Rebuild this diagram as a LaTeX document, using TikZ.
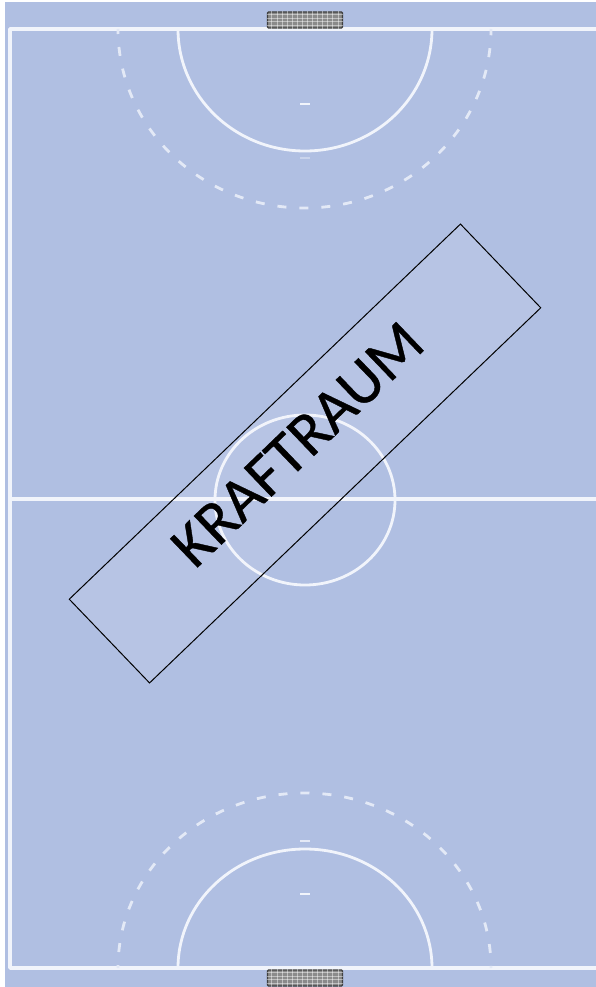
\documentclass[tikz,border=0pt]{standalone}
\usepackage{fontspec}
\setmainfont{Carlito}
\newfontfamily\rotulofont[FakeBold=0.6]{Carlito}
\usepackage{tikz}
\usetikzlibrary{positioning,calc}
\definecolor{quadra}{HTML}{B0BFE2}
\definecolor{linha}{HTML}{F1F4FB}
\definecolor{tracejado}{HTML}{E3E9F6}
\definecolor{rede}{HTML}{8A8A8A}
\definecolor{trave}{HTML}{3F3F3F}

\begin{document}
\begin{tikzpicture}[x=1pt, y=-1pt,
  ln/.style={draw=linha, line width=2.8pt, line join=round},
  rt/.style={ln, line width=3.6pt},
  dsh/.style={draw=tracejado, line width=2.8pt, dash pattern=on 9pt off 13pt},
  tick/.style={draw=linha, line width=2.4pt},
  goalbox/.style={draw=trave, fill=rede, line width=1.2pt, rounded corners=1pt, minimum width=75pt, inner sep=0pt},
  sala/.style={draw=black, line width=1pt, fill=white, fill opacity=0.09, draw opacity=1, minimum width=542pt, minimum height=116pt, rotate=43.8, inner sep=0pt},
  rotulo/.style={rotate=43.8, inner sep=0pt, font=\rotulofont\fontsize{62}{66}\selectfont}]
  \useasboundingbox (0,0) rectangle (596,987);
  \fill[white] (0,0) rectangle (596,987);
  \fill[quadra] (5,2) rectangle (596,987);
  \coordinate (cantoA) at (10,29);
  \coordinate (cantoB) at (596,29);
  \coordinate (cantoC) at (10,968);
  \coordinate (cantoD) at (596,968);
  \coordinate (meioE) at (10,499);
  \coordinate (meioD) at (596,499);
  \draw[rt] (cantoB) -- (cantoA) -- (cantoC) -- (cantoD);
  \draw[rt] (meioE) -- (meioD);
  \draw[ln] (305,500) ellipse (90 and 85);
  \draw[ln] (178,29) arc[start angle=180, end angle=360, x radius=127, y radius=-122];
  \draw[ln] (178,968) arc[start angle=180, end angle=360, x radius=127, y radius=119];
  \draw[dsh, dash phase=4pt] (118,29) arc[start angle=180, end angle=360, x radius=186.5, y radius=-179];
  \draw[dsh, dash phase=6pt] (118,968) arc[start angle=180, end angle=360, x radius=186.5, y radius=175];
  \foreach \y/\o in {104/1,158/.4,841/.8,894/1} {
    \draw[tick, opacity=\o] (300,\y) -- (310,\y);
  }
  \node[goalbox, minimum height=16pt] (golA) at (305,20) {};
  \node[goalbox, minimum height=16pt] (golB) at (305,978) {};
  \foreach \g in {golA,golB} {
    \foreach \i in {1,...,14} {
      \draw[white, opacity=.45, line width=1pt] ($(\g.north west)!\i/15!(\g.north east)$) -- ($(\g.south west)!\i/15!(\g.south east)$);
    }
    \foreach \i in {1,...,4} {
      \draw[white, opacity=.45, line width=1pt] ($(\g.north west)!\i/5!(\g.south west)$) -- ($(\g.north east)!\i/5!(\g.south east)$);
    }
  }
  \node[sala] (kraftraum) at (305,453.5) {};
  \node[rotulo] (titulo) at (297.5,444.5) {KRAFTRAUM};
\end{tikzpicture}
\end{document}
